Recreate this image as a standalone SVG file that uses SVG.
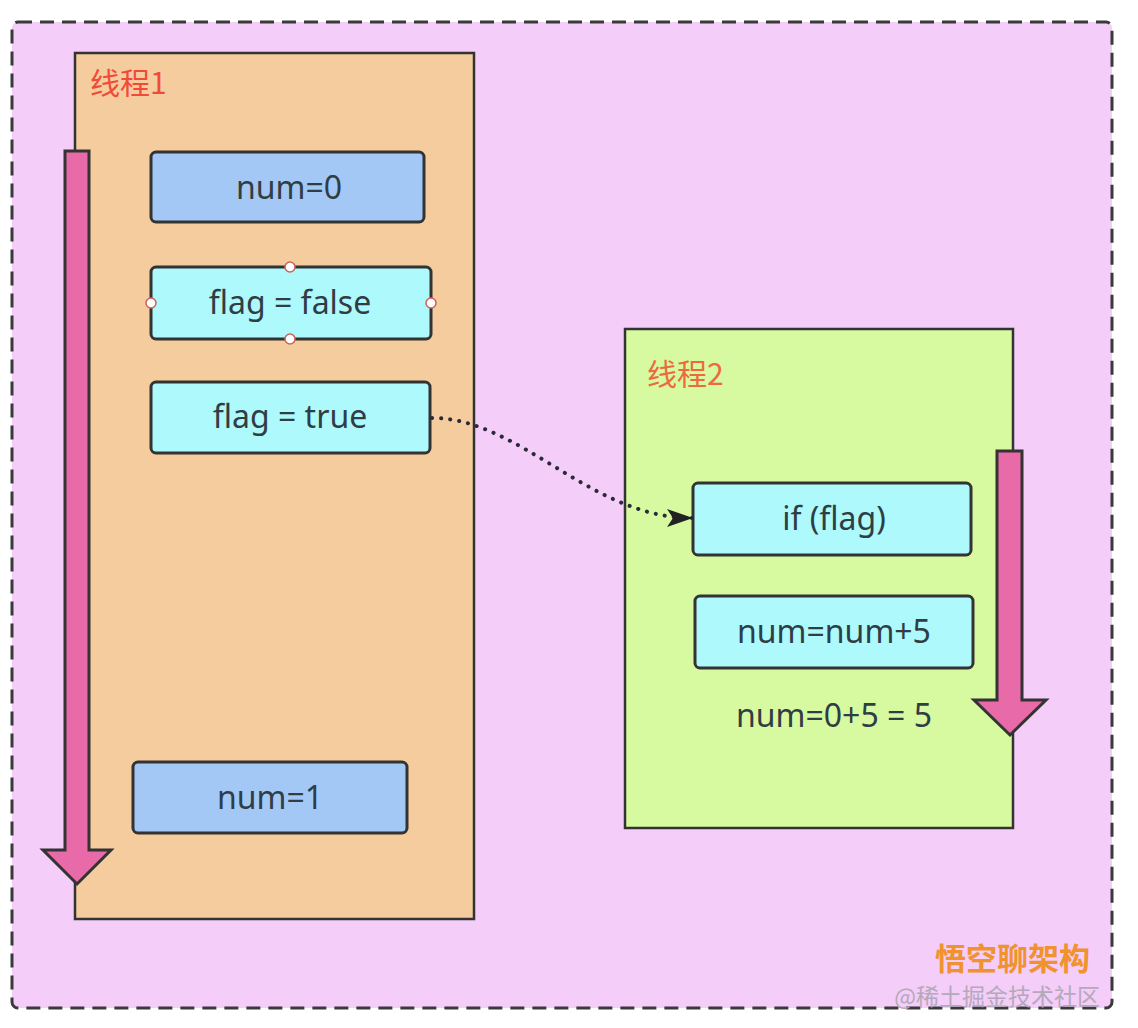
<svg xmlns="http://www.w3.org/2000/svg" width="1138" height="1028" viewBox="0 0 1138 1028">
  <style>
    .box { stroke: #333; stroke-width: 3; }
    .lbl { font-family: "Noto Sans", "Noto Sans CJK SC", sans-serif; font-size: 32px; fill: #2f3d44; text-anchor: middle; dominant-baseline: central; }
    .title { font-family: "Noto Sans CJK SC", sans-serif; font-size: 30px; }
    .flow { fill: #e86aa8; stroke: #333; stroke-width: 3; stroke-linejoin: miter; }
    .handle { fill: #fff; stroke: #d0605a; stroke-width: 1.5; }
  </style>
  <defs>
    <marker id="arrow" viewBox="0 0 26 18" refX="25" refY="9" markerWidth="26" markerHeight="18" markerUnits="userSpaceOnUse" orient="auto">
      <path d="M0,0 L26,9 L0,18 L6,9 Z" fill="#222"/>
    </marker>
  </defs>

  <rect width="1138" height="1028" fill="#ffffff"/>

  <!-- outer frame -->
  <rect x="12" y="22" width="1100" height="986" rx="6" fill="#f4cdf8" stroke="#3a3a3a" stroke-width="3" stroke-dasharray="14 8"/>

  <!-- thread 1 -->
  <g id="thread1">
    <rect x="75" y="53" width="399" height="866" fill="#f5cc9d" stroke="#333" stroke-width="2.5"/>
    <text x="90" y="94" class="title" fill="#f04b3a">线程1</text>
    <path class="flow" d="M65,151 L89,151 L89,850 L111,850 L77,884 L43,850 L65,850 Z"/>
  </g>

  <g id="num0">
    <rect class="box" x="151" y="152" width="273" height="70" rx="5" fill="#a4c8f6"/>
    <text class="lbl" x="289" y="186">num=0</text>
  </g>

  <g id="flagFalse">
    <rect class="box" x="151" y="267" width="280" height="72" rx="5" fill="#adf9fb"/>
    <text class="lbl" x="290" y="301">flag = false</text>
    <circle class="handle" cx="290" cy="267" r="5"/>
    <circle class="handle" cx="290" cy="339" r="5"/>
    <circle class="handle" cx="151" cy="303" r="5"/>
    <circle class="handle" cx="431" cy="303" r="5"/>
  </g>

  <g id="flagTrue">
    <rect class="box" x="151" y="382" width="279" height="71" rx="5" fill="#adf9fb"/>
    <text class="lbl" x="290" y="415">flag = true</text>
  </g>

  <g id="num1">
    <rect class="box" x="133" y="762" width="274" height="71" rx="5" fill="#a4c8f6"/>
    <text class="lbl" x="270" y="796">num=1</text>
  </g>

  <!-- thread 2 -->
  <g id="thread2">
    <rect x="625" y="329" width="388" height="499" fill="#d7f9a0" stroke="#333" stroke-width="2.5"/>
    <text x="647" y="385" class="title" fill="#ec6a3e">线程2</text>
    <path class="flow" d="M997,451 L1022,451 L1022,700 L1046,700 L1010,735 L974,700 L997,700 Z"/>
  </g>

  <g id="ifFlag">
    <rect class="box" x="693" y="483" width="278" height="72" rx="5" fill="#adf9fb"/>
    <text class="lbl" x="834" y="517">if (flag)</text>
  </g>

  <g id="numPlus">
    <rect class="box" x="695" y="596" width="278" height="72" rx="5" fill="#adf9fb"/>
    <text class="lbl" x="834" y="630">num=num+5</text>
  </g>

  <g id="result">
    <text class="lbl" x="834" y="714" fill="#2f3d2a">num=0+5 = 5</text>
  </g>

  <!-- connectors -->
  <g id="connectors">
    <path d="M432,418 C520,418 590,518 692,518" fill="none" stroke="#2a2a3a" stroke-width="4" stroke-linecap="round" stroke-dasharray="0.1 9" marker-end="url(#arrow)"/>
  </g>

  <!-- watermark -->
  <text x="1090" y="970" text-anchor="end" font-family="Noto Sans CJK SC, sans-serif" font-size="31" font-weight="bold" fill="#f0922e">悟空聊架构</text>
  <text x="1100" y="1005" text-anchor="end" font-family="Noto Sans CJK SC, sans-serif" font-size="23" fill="#b3a9bb">@稀土掘金技术社区</text>
</svg>
